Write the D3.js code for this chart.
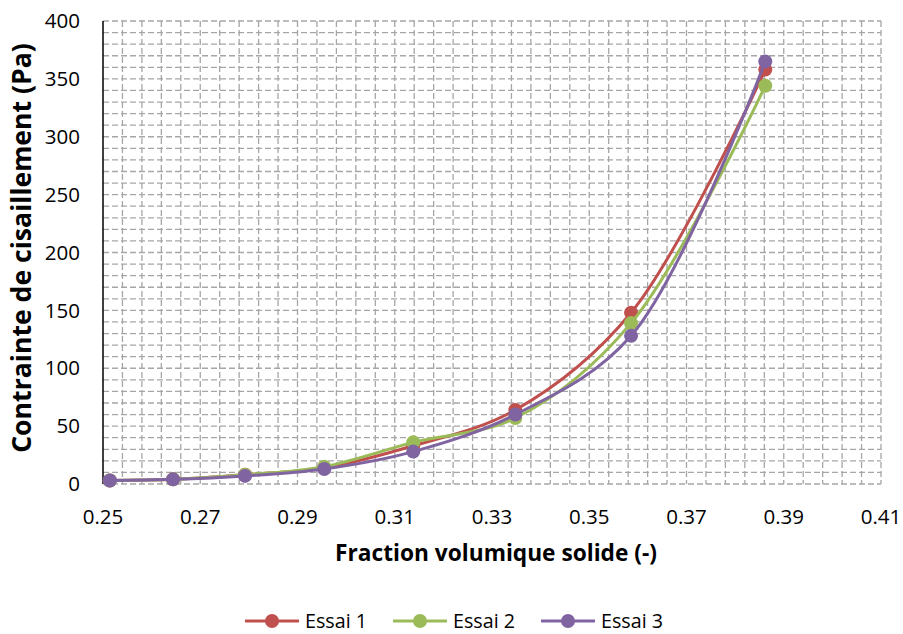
<!DOCTYPE html>
<html><head><meta charset="utf-8">
<script src="https://cdn.jsdelivr.net/npm/d3@7"></script>
<style>body{margin:0;background:#fff;} svg{font-family:"Open Sans",sans-serif;}</style>
</head><body>
<svg id="c" width="903" height="634"></svg>
<script>
const xValues = [0.2514, 0.2644, 0.2792, 0.2955, 0.3138, 0.3348, 0.3586, 0.3862];
const essai1 = [3, 4, 8, 14, 33, 64, 148, 358];
const essai2 = [3, 4, 8, 15, 36, 57, 139, 344];
const essai3 = [3, 4, 7, 13, 28, 60, 128, 365];
const seriesNames = ["Essai 1", "Essai 2", "Essai 3"];
const seriesColors = ["#C0504D", "#9BBB59", "#8064A2"];
const xTicks = [0.25, 0.27, 0.29, 0.31, 0.33, 0.35, 0.37, 0.39, 0.41];
const yTicks = [0, 50, 100, 150, 200, 250, 300, 350, 400];

const svg = d3.select("#c");
const L = 103, R = 881, T = 21, B = 484;
const x = d3.scaleLinear().domain([0.25, 0.41]).range([L, R]);
const y = d3.scaleLinear().domain([0, 400]).range([B, T]);

function fit(sel, target) {
  const w = sel.node().getComputedTextLength();
  const fs = parseFloat(sel.attr("font-size"));
  sel.attr("font-size", fs * target / w);
}

// grid (minor + major), dashed
const grid = svg.append("g").attr("stroke", "#a6a6a6").attr("stroke-width", 1.3).attr("stroke-dasharray", "6,3");
d3.range(0, 401, 10).forEach(v => grid.append("line").attr("x1", L).attr("x2", R).attr("y1", y(v)).attr("y2", y(v)));
d3.range(0, 41).map(i => 0.25 + i * 0.004).forEach(v => {
  if (Math.abs(v - 0.25) < 1e-9) return;
  grid.append("line").attr("x1", x(v)).attr("x2", x(v)).attr("y1", T).attr("y2", B);
});

// y axis line
svg.append("line").attr("x1", L).attr("x2", L).attr("y1", T).attr("y2", B).attr("stroke", "#000").attr("stroke-width", 1.5);

// tick labels
svg.append("g").selectAll("text").data(yTicks).join("text")
  .attr("x", 80).attr("y", d => y(d)).attr("dy", "0.35em").attr("text-anchor", "end")
  .attr("font-size", 20.5).attr("fill", "#000").text(d => d);
svg.append("g").selectAll("text").data(xTicks).join("text")
  .attr("x", d => x(d)).attr("y", 517).attr("dy", "0.35em").attr("text-anchor", "middle")
  .attr("font-size", 20.5).attr("fill", "#000").text(d => d.toFixed(2));

// axis titles
const xt = svg.append("text").attr("x", 496).attr("y", 553).attr("dy", "0.35em").attr("text-anchor", "middle")
  .attr("font-size", 20).attr("font-weight", "bold").text("Fraction volumique solide (-)");
fit(xt, 322);
const yt = svg.append("text").attr("transform", "translate(22,248) rotate(-90)").attr("dy", "0.35em").attr("text-anchor", "middle")
  .attr("font-size", 20).attr("font-weight", "bold").text("Contrainte de cisaillement (Pa)");
fit(yt, 410);

// series
const allSeries = [essai1, essai2, essai3];
const line = d3.line().x((d, i) => x(xValues[i])).y(d => y(d)).curve(d3.curveCatmullRom.alpha(0.5));
allSeries.forEach((s, k) => {
  const g = svg.append("g");
  g.append("path").attr("d", line(s)).attr("fill", "none").attr("stroke", seriesColors[k]).attr("stroke-width", 3);
  g.selectAll("circle").data(s).join("circle")
    .attr("cx", (d, i) => x(xValues[i])).attr("cy", d => y(d)).attr("r", 7).attr("fill", seriesColors[k]);
});

// legend
const legX = [245, 393, 541];
seriesNames.forEach((n, k) => {
  const g = svg.append("g").attr("transform", `translate(${legX[k]},621)`);
  g.append("line").attr("x1", 0).attr("x2", 54).attr("stroke", seriesColors[k]).attr("stroke-width", 3);
  g.append("circle").attr("cx", 27).attr("r", 7).attr("fill", seriesColors[k]);
  const t = g.append("text").attr("x", 60).attr("dy", "0.33em").attr("font-size", 18).text(n);
  fit(t, 62);
});
</script>
</body></html>
